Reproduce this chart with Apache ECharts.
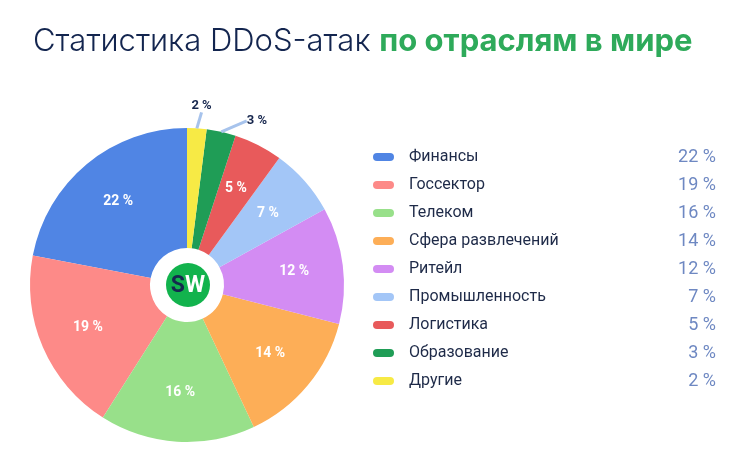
<!DOCTYPE html>
<html><head><meta charset="utf-8">
<script src="https://cdn.jsdelivr.net/npm/echarts@6/dist/echarts.min.js"></script>
<style>html,body{margin:0;padding:0;background:#fff}#c{width:749px;height:465px}</style>
</head><body><div id="c"></div>
<script>
const categories = ['Финансы','Госсектор','Телеком','Сфера развлечений','Ритейл','Промышленность','Логистика','Образование','Другие'];
const values = [22,19,16,14,12,7,5,3,2];
const colors = ['#5085e4','#fd8a88','#98e08a','#fdae57','#d38cf3','#a3c6f7','#e85a5b','#1f9d56','#f7ea45'];
const outsideLabels = ['Образование','Другие'];

const chart = echarts.init(document.getElementById('c'));
const cx = 187, cy = 285;
const pieData = categories.map((n,i)=>({name:n, value:values[i], itemStyle:{color:colors[i]}}));
const labelData = categories.map((n,i)=>{
  const outside = outsideLabels.includes(n);
  return {name:n, value:values[i], itemStyle:{color:'rgba(0,0,0,0)'},
    label: outside ? {position:'outside', color:'#16264d', fontSize:13} : {position:'inside'},
    labelLine: outside ? {show:true, length:11, length2:0, lineStyle:{color:'#a7c3ec', width:3}} : {show:false}
  };
});
chart.setOption({
  animation:false,
  title:{left:28, top:21, text:'{a|Статистика DDoS-атак }{b|по отраслям в мире}',
    textStyle:{rich:{
      a:{fontFamily:'Inter', fontWeight:300, fontSize:31, color:'#13254f'},
      b:{fontFamily:'Inter', fontWeight:'bold', fontSize:31, color:'#2eaa5a'}
    }}},
  legend:{orient:'vertical', left:368, top:143, itemWidth:21, itemHeight:8, itemGap:10,
    icon:'path://M4,0 H17 A4,4 0 0 1 17,8 H4 A4,4 0 0 1 4,0 Z',
    data: categories.map((n,i)=>({name:n, itemStyle:{color:colors[i]}})),
    formatter: function(name){ const i = categories.indexOf(name); return '{n|'+name+'}{v|'+values[i]+' %}'; },
    textStyle:{rich:{
      n:{fontFamily:'Roboto', fontSize:16, color:'#1e2a48', width:247, padding:[0,0,0,10]},
      v:{fontFamily:'Roboto', fontSize:18, color:'#6e88c2', width:60, align:'right'}
    }},
    selectedMode:false},
  series:[
    {type:'pie', center:[cx,cy], radius:[37,157], startAngle:90, clockwise:false,
     silent:true, label:{show:false}, labelLine:{show:false}, data:pieData},
    {type:'pie', center:[cx,cy], radius:[53,157], startAngle:90, clockwise:false,
     silent:true, z:3,
     label:{show:true, formatter:'{c} %', color:'#fff', fontFamily:'Roboto', fontWeight:'bold', fontSize:14},
     labelLayout:function(p){
       if (outsideLabels.includes(categories[p.dataIndex]) && p.labelLinePoints){
         const pt = p.labelLinePoints[p.labelLinePoints.length-1];
         return {x: pt[0] + 4, y: pt[1] - 5, align:'center', verticalAlign:'bottom'};
       }
       return {};
     },
     data:labelData}
  ],
  graphic:[
    {type:'circle', shape:{cx:cx+1, cy:cy, r:22}, style:{fill:'#12b34d'}, z:10},
    {type:'text', x:cx+1, y:cy+1, z:11, style:{text:'{s|S}{w|W}', align:'center', verticalAlign:'middle',
      rich:{s:{fontFamily:'Roboto', fontWeight:'bold', fontSize:23, fill:'#15294f'},
            w:{fontFamily:'Roboto', fontWeight:'bold', fontSize:23, fill:'#ffffff'}}}}
  ]
});
</script></body></html>
